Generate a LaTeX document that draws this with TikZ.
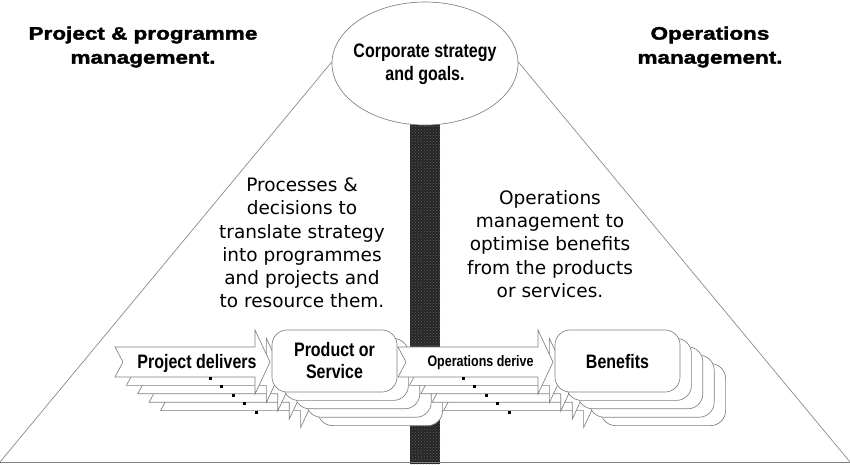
\documentclass[tikz,border=0pt]{standalone}
\usepackage{fontspec}
\usetikzlibrary{patterns}
\setmainfont{Liberation Sans}
\newfontfamily\heavyfont[FakeStretch=1.25,FakeBold=2]{Liberation Sans}
\newfontfamily\narrowfont[FakeStretch=0.82]{Liberation Sans}
\newfontfamily\casualfont{DejaVu Sans}
\definecolor{bardark}{RGB}{38,38,38}
\newcommand\blockarrowat[2]{%
  \draw[shapeline] (#1,#2) -- ++(140,0) -- ++(0,-17) -- ++(15,32) -- ++(-15,32)
    -- ++(0,-17) -- ++(-140,0) -- ++(8,-15) -- cycle;}
\begin{document}
\begin{tikzpicture}[x=1pt,y=-1pt,
  shapeline/.style={draw=black!50, line width=0.65pt, fill=white},
  sideline/.style={draw=black!45, line width=0.7pt},
  heading/.style={font=\heavyfont\bfseries\fontsize{18}{24}\selectfont, align=center, inner sep=0pt},
  boxtext/.style={font=\narrowfont\bfseries\fontsize{19.5}{22}\selectfont, align=center, inner sep=0pt},
  corptext/.style={font=\narrowfont\bfseries\fontsize{19.5}{23}\selectfont, align=center, inner sep=0pt},
  smalltext/.style={font=\narrowfont\bfseries\fontsize{15.2}{17}\selectfont, inner sep=0pt},
  casual/.style={font=\casualfont\fontsize{18.5}{23.3}\selectfont, align=center, inner sep=0pt}]
\useasboundingbox (0,0) rectangle (850,464);
\fill[white] (0,0) rectangle (850,464);

% triangle sides
\draw[sideline] (0,462) -- (340,52);
\draw[sideline] (850,462) -- (510,52);

% central dark bar
\fill[bardark] (410,110) rectangle (440,464);
\fill[pattern=crosshatch dots, pattern color=black!62] (410,110) rectangle (440,464);

% bottom line
\draw[draw=black!50, line width=1.2pt] (0,462.5) -- (850,462.5);

% ellipse
\draw[shapeline] (425,63.5) ellipse [x radius=93, y radius=61.5];
\node[corptext] (corp) at (425,64.5) {Corporate strategy\\and goals.};

% titles
\node[heading] (pmtitle) at (143,47) {Project \& programme\\management.};
\node[heading] (omtitle) at (710,47) {Operations\\management.};

% explanatory texts
\node[casual] (lefttext) at (302,243) {Processes \&\\decisions to\\translate strategy\\into programmes\\and projects and\\to resource them.};
\node[casual] (righttext) at (550,244) {Operations\\management to\\optimise benefits\\from the products\\or services.};

% stacked layers (back to front)
\foreach \k in {4,3,2,1,0}{
  \begin{scope}[shift={(11.4*\k,8.4*\k)}]
    \blockarrowat{115}{347}
    \fill[black] (209,377) rectangle (212,380);
    \draw[shapeline, rounded corners=15pt] (272,330) rectangle (397,392);
    \blockarrowat{398}{347}
    \fill[black] (462,377) rectangle (465,380);
    \draw[shapeline, rounded corners=15pt] (555,330) rectangle (680,392);
  \end{scope}
}

\node[boxtext] (deliver) at (197,363) {Project delivers};
\node[boxtext] (product) at (334.5,360.5) {Product or\\Service};
\node[smalltext] (derive) at (480.5,363) {Operations derive};
\node[boxtext] (benefits) at (617.5,362) {Benefits};
\end{tikzpicture}
\end{document}
